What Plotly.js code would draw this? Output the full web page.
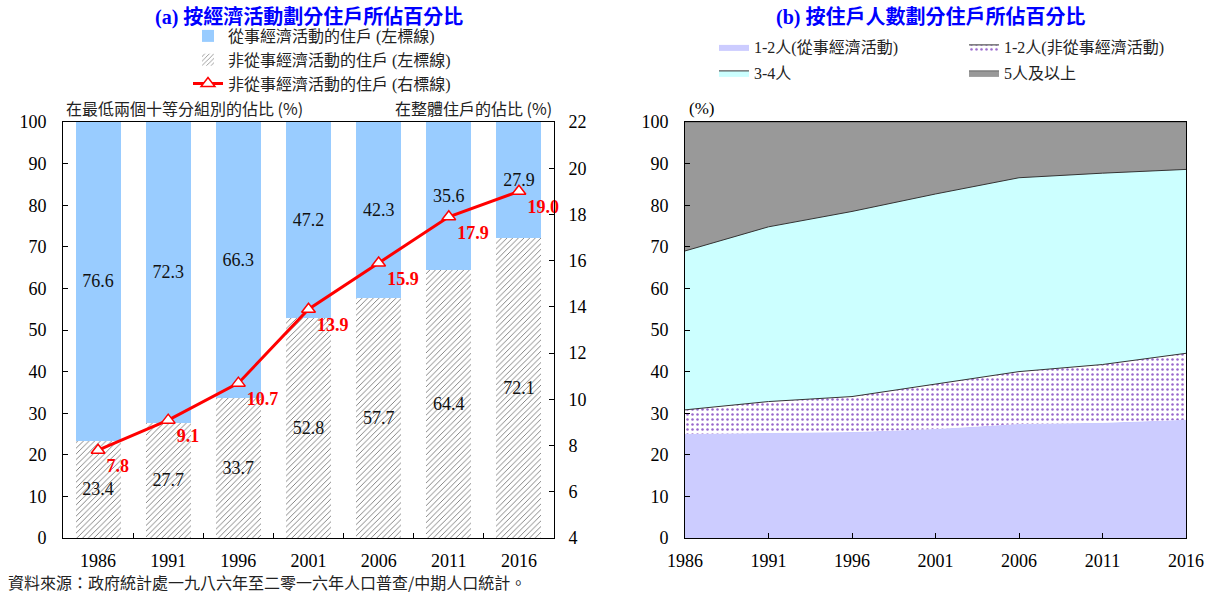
<!DOCTYPE html>
<html>
<head>
<meta charset="utf-8">
<script src="https://cdn.plot.ly/plotly-3.0.1.min.js"></script>
<style>html,body{margin:0;padding:0;background:#fff;}#chart{width:1215px;height:594px;}</style>
</head>
<body>
<div id="chart"></div>
<script>
// ---- Data: panel (a) ----
const yearsA = ['1986','1991','1996','2001','2006','2011','2016'];
const econActive = [76.6, 72.3, 66.3, 47.2, 42.3, 35.6, 27.9];      // 從事經濟活動的住戶 (左標線)
const nonEconActive = [23.4, 27.7, 33.7, 52.8, 57.7, 64.4, 72.1];   // 非從事經濟活動的住戶 (左標線)
const nonEconShareAll = [7.8, 9.1, 10.7, 13.9, 15.9, 17.9, 19.0];   // 非從事經濟活動的住戶 (右標線)

// ---- Data: panel (b) ----
const yearsB = [1986, 1991, 1996, 2001, 2006, 2011, 2016];
const oneTwoEcon = [25.0, 25.3, 25.5, 26.2, 27.4, 27.7, 28.4];     // 1-2人(從事經濟活動)
const oneTwoNonEcon = [5.8, 7.5, 8.5, 10.8, 12.6, 14.0, 16.0];     // 1-2人(非從事經濟活動)
const threeFour = [38.2, 42.0, 44.5, 45.7, 46.6, 46.0, 44.2];      // 3-4人
const fivePlus = [31.0, 25.2, 21.5, 17.3, 13.4, 12.3, 11.4];       // 5人及以上

const serif = 'Liberation Serif, Times New Roman, Noto Sans CJK TC, serif';
const cjk = 'Noto Sans CJK TC, Noto Sans, sans-serif';

const traces = [
  {
    type: 'bar', x: yearsA, y: nonEconActive, name: '非從事經濟活動的住戶 (左標線)',
    xaxis: 'x', yaxis: 'y', legend: 'legend',
    marker: {color: 'white', line: {width: 0},
      pattern: {shape: '/', fgcolor: '#555555', bgcolor: 'white', size: 4, solidity: 0.18}},
    text: nonEconActive.map(v => v.toFixed(1)), textposition: 'inside', insidetextanchor: 'middle',
    textangle: 0, constraintext: 'none',
    textfont: {family: serif, size: 18, color: '#111'}, legendrank: 2
  },
  {
    type: 'bar', x: yearsA, y: econActive, name: '從事經濟活動的住戶 (左標線)',
    xaxis: 'x', yaxis: 'y', legend: 'legend',
    marker: {color: '#99CCFF', line: {width: 0}},
    text: econActive.map(v => v.toFixed(1)), textposition: 'inside', insidetextanchor: 'middle',
    textangle: 0, constraintext: 'none',
    textfont: {family: serif, size: 18, color: '#111'}, legendrank: 1
  },
  {
    type: 'scatter', mode: 'lines+markers+text', x: yearsA, y: nonEconShareAll,
    name: '非從事經濟活動的住戶 (右標線)', xaxis: 'x', yaxis: 'y2', legend: 'legend',
    line: {color: '#FF0000', width: 3},
    marker: {symbol: 'triangle-up', size: 12, color: 'white', line: {color: '#FF0000', width: 1.5}},
    text: nonEconShareAll.map(v => v.toFixed(1)), textposition: 'bottom right',
    textfont: {family: serif, size: 18, color: '#FF0000', weight: 'bold'},
    cliponaxis: false, legendrank: 3
  },
  {
    type: 'scatter', x: yearsB, y: oneTwoEcon, name: '1-2人(從事經濟活動)', stackgroup: 'b',
    xaxis: 'x2', yaxis: 'y3', legend: 'legend2', mode: 'lines',
    line: {width: 0, color: '#CCCCFF'}, fillcolor: '#CCCCFF'
  },
  {
    type: 'scatter', x: yearsB, y: oneTwoNonEcon, name: '1-2人(非從事經濟活動)', stackgroup: 'b',
    xaxis: 'x2', yaxis: 'y3', legend: 'legend2', mode: 'lines',
    line: {width: 1, color: '#333333'}, fillcolor: 'white',
    fillpattern: {shape: '.', fgcolor: '#9966CC', bgcolor: 'white', size: 5, solidity: 0.2}
  },
  {
    type: 'scatter', x: yearsB, y: threeFour, name: '3-4人', stackgroup: 'b',
    xaxis: 'x2', yaxis: 'y3', legend: 'legend3', mode: 'lines',
    line: {width: 1, color: '#333333'}, fillcolor: '#CCFFFF'
  },
  {
    type: 'scatter', x: yearsB, y: fivePlus, name: '5人及以上', stackgroup: 'b',
    xaxis: 'x2', yaxis: 'y3', legend: 'legend3', mode: 'lines',
    line: {width: 1, color: '#666666'}, fillcolor: '#999999'
  }
];

const yDom = [56/594, 472/594];
const axisCommon = {
  showgrid: false, zeroline: false, showline: true, linecolor: '#000', linewidth: 1,
  ticks: 'inside', ticklen: 5, tickcolor: '#000', automargin: false,
  tickfont: {family: serif, size: 18, color: '#000'}
};

const legendFont = {family: serif, size: 16, color: '#222'};

const layout = {
  width: 1215, height: 594,
  margin: {l: 0, r: 0, t: 0, b: 0, autoexpand: false},
  paper_bgcolor: 'white', plot_bgcolor: 'white',
  barmode: 'stack', bargap: 0.36,
  showlegend: true,
  xaxis: Object.assign({}, axisCommon, {
    domain: [63/1215, 554/1215], anchor: 'y', type: 'category',
    tickson: 'boundaries', mirror: true, ticklabelstandoff: 6
  }),
  yaxis: Object.assign({}, axisCommon, {
    domain: yDom, anchor: 'x', range: [0, 100], dtick: 10, ticklabelstandoff: 12
  }),
  yaxis2: Object.assign({}, axisCommon, {
    overlaying: 'y', side: 'right', anchor: 'x', range: [4, 22], dtick: 2, ticklabelstandoff: 10
  }),
  xaxis2: Object.assign({}, axisCommon, {
    domain: [685/1215, 1186/1215], anchor: 'y3', range: [1986, 2016],
    tickvals: yearsB, mirror: true, ticklabelstandoff: 6
  }),
  yaxis3: Object.assign({}, axisCommon, {
    domain: yDom, anchor: 'x2', range: [0, 100], dtick: 10, mirror: true, ticklabelstandoff: 12
  }),
  legend: {
    x: 188/1215, y: 1 - 60/594, xref: 'paper', yref: 'paper', xanchor: 'left', yanchor: 'middle',
    orientation: 'v', bgcolor: 'rgba(0,0,0,0)', itemwidth: 30, tracegroupgap: 0,
    font: legendFont, traceorder: 'normal'
  },
  legend2: {
    x: 714/1215, y: 1 - 47/594, xanchor: 'left', yanchor: 'middle', orientation: 'h',
    bgcolor: 'rgba(0,0,0,0)', itemwidth: 30, entrywidth: 205,
    font: legendFont, traceorder: 'normal'
  },
  legend3: {
    x: 714/1215, y: 1 - 73/594, xanchor: 'left', yanchor: 'middle', orientation: 'h',
    bgcolor: 'rgba(0,0,0,0)', itemwidth: 30, entrywidth: 205,
    font: legendFont, traceorder: 'normal'
  },
  annotations: [
    {text: '<b>(a) 按經濟活動劃分住戶所佔百分比</b>', xref: 'paper', yref: 'paper',
     x: 309/1215, y: 1 - 18/594, xanchor: 'center', yanchor: 'middle', showarrow: false,
     font: {family: serif, size: 20, color: '#0000FF'}},
    {text: '<b>(b) 按住戶人數劃分住戶所佔百分比</b>', xref: 'paper', yref: 'paper',
     x: 930/1215, y: 1 - 18/594, xanchor: 'center', yanchor: 'middle', showarrow: false,
     font: {family: serif, size: 20, color: '#0000FF'}},
    {text: '在最低兩個十等分組別的佔比 (%)', xref: 'paper', yref: 'paper',
     x: 64/1215, y: 1 - 108/594, xanchor: 'left', yanchor: 'middle', showarrow: false,
     font: {family: cjk, size: 16, color: '#222'}},
    {text: '在整體住戶的佔比 (%)', xref: 'paper', yref: 'paper',
     x: 554/1215, y: 1 - 108/594, xanchor: 'right', yanchor: 'middle', showarrow: false,
     font: {family: cjk, size: 16, color: '#222'}},
    {text: '(%)', xref: 'paper', yref: 'paper',
     x: 687/1215, y: 1 - 108/594, xanchor: 'left', yanchor: 'middle', showarrow: false,
     font: {family: serif, size: 17, color: '#000'}},
    {text: '資料來源：政府統計處一九八六年至二零一六年人口普查/中期人口統計。', xref: 'paper', yref: 'paper',
     x: 6/1215, y: 1 - 582/594, xanchor: 'left', yanchor: 'middle', showarrow: false,
     font: {family: cjk, size: 16, color: '#222'}}
  ]
};

Plotly.newPlot('chart', traces, layout, {staticPlot: true, displayModeBar: false});
</script>
</body>
</html>
